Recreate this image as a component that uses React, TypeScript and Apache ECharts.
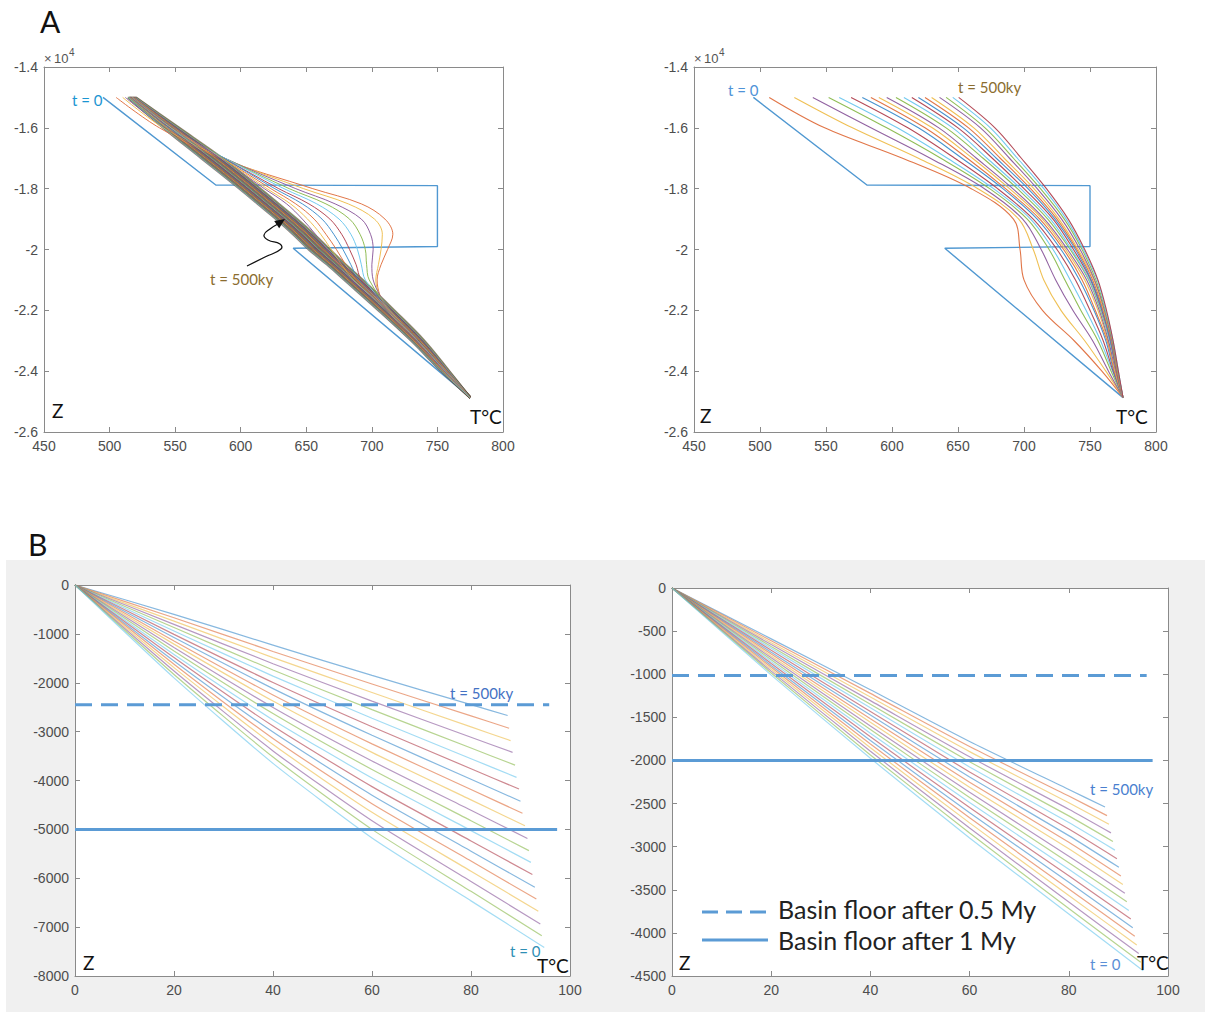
import React, { useEffect, useRef } from 'react';
import * as echarts from 'echarts';

// ---------- colours (MATLAB default order, as they appear) ----------
const COLORS = ['#3d8dcc', '#df6f3e', '#eebd4b', '#8b5a9c', '#8ab94d', '#6ac6ee', '#b0404e'];

// ---------- Panel A : initial condition (t = 0) ----------
const initT = [495, 581, 750, 750, 640, 775];
const initZ = [-15000, -17880, -17900, -19900, -19960, -24870];

// ---------- Panel A left : depths at which the temperatures were read ----------
const aLeftDepths = [-15000, -16000, -17000, -18000, -18500, -19000, -19500, -20000, -20500, -21000, -22000, -23000, -24000, -24870];
const aLeftCurves = [
  [505, 538, 585, 655, 692, 710, 716, 712, 707, 704, 712, 734, 755, 775],
  [510, 541, 587, 648, 682, 702, 708, 707, 705, 703, 713, 735, 756, 775],
  [512, 543, 588, 642, 672, 692, 699, 701, 700, 701, 714, 735, 756, 775],
  [514, 544, 588, 637, 665, 683, 691, 695, 696, 698, 714, 735, 756, 775],
  [515, 545, 588, 633, 658, 675, 684, 689, 692, 695, 713, 735, 756, 775],
  [516, 546, 587, 629, 652, 668, 677, 683, 688, 692, 713, 735, 756, 775],
  [516, 546, 587, 626, 647, 662, 671, 678, 684, 690, 713, 735, 756, 775],
  [517, 547, 586, 623, 642, 656, 665, 673, 680, 688, 712, 735, 756, 775],
  [517, 547, 586, 620, 638, 651, 661, 669, 677, 686, 712, 735, 756, 775],
  [518, 548, 585, 618, 635, 647, 657, 666, 675, 685, 712, 735, 756, 775],
  [520, 553, 586, 615, 629, 643, 656, 668, 680, 693, 717, 740, 759, 775],
  [519.6, 552.2, 584.9, 613.9, 627.9, 641.9, 654.9, 666.9, 679.1, 692.1, 716.2, 739.3, 758.6, 775],
  [519.2, 551.4, 583.9, 612.9, 626.9, 640.9, 653.9, 665.9, 678.1, 691.1, 715.4, 738.7, 758.2, 775],
  [518.8, 550.6, 582.8, 611.8, 625.8, 639.8, 652.8, 664.8, 677.2, 690.2, 714.6, 738, 757.8, 775],
  [518.4, 549.8, 581.7, 610.7, 624.7, 638.7, 651.7, 663.7, 676.3, 689.3, 713.8, 737.3, 757.4, 775],
  [518, 549, 580.7, 609.7, 623.7, 637.7, 650.7, 662.7, 675.3, 688.3, 713, 736.7, 757, 775],
  [517.6, 548.2, 579.6, 608.6, 622.6, 636.6, 649.6, 661.6, 674.4, 687.4, 712.2, 736, 756.6, 775],
  [517.2, 547.4, 578.5, 607.5, 621.5, 635.5, 648.5, 660.5, 673.5, 686.5, 711.4, 735.3, 756.2, 775],
  [516.8, 546.6, 577.5, 606.5, 620.5, 634.5, 647.5, 659.5, 672.5, 685.5, 710.6, 734.7, 755.8, 775],
  [516.4, 545.8, 576.4, 605.4, 619.4, 633.4, 646.4, 658.4, 671.6, 684.6, 709.8, 734, 755.4, 775],
  [516, 545, 575.3, 604.3, 618.3, 632.3, 645.3, 657.3, 670.7, 683.7, 709, 733.3, 755, 775],
  [515.6, 544.2, 574.3, 603.3, 617.3, 631.3, 644.3, 656.3, 669.7, 682.7, 708.2, 732.7, 754.6, 775],
  [515.2, 543.4, 573.2, 602.2, 616.2, 630.2, 643.2, 655.2, 668.8, 681.8, 707.4, 732, 754.2, 775],
  [514.8, 542.6, 572.1, 601.1, 615.1, 629.1, 642.1, 654.1, 667.9, 680.9, 706.6, 731.3, 753.8, 775],
  [514.4, 541.8, 571.1, 600.1, 614.1, 628.1, 641.1, 653.1, 666.9, 679.9, 705.8, 730.7, 753.4, 775],
  [514, 541, 570, 599, 613, 627, 640, 652, 666, 679, 705, 730, 753, 775],
];

// ---------- Panel A right ----------
const aRightDepths = [-15000, -16000, -17000, -18000, -19000, -20000, -21000, -22000, -23000, -24000, -24870];
const aRightCurves = [
  [507, 549, 608, 660, 692, 697, 700, 714, 738, 759, 775],
  [526, 570, 620, 665, 696, 707, 715, 728, 746, 762, 775],
  [540, 584, 629, 670, 699, 713, 724, 737, 752, 764, 775],
  [552, 596, 637, 674, 702.5, 719, 731, 743, 756, 766, 775],
  [560, 604, 642, 677, 705, 722, 735, 747, 758, 767, 775],
  [569, 612, 647.5, 680, 707, 725, 739, 750, 760, 767.5, 775],
  [577.5, 620, 653, 684, 710, 728, 742, 753, 762, 768, 775],
  [584, 625, 657, 686, 712, 730, 744, 754, 763, 768.5, 775],
  [590, 630.5, 661, 689, 714, 731.5, 746, 756, 763.5, 769, 775],
  [596, 635.5, 664, 691.5, 715.5, 733, 747.5, 757, 764, 769.5, 775],
  [603, 641, 669, 695, 718, 735, 749, 758, 765, 770, 775],
  [609, 646, 672, 697.5, 720, 736, 749.5, 758.5, 765, 770, 775],
  [615, 650, 676, 700, 722, 737.5, 750.5, 759, 765.5, 770, 775],
  [620, 654, 679, 703, 723.5, 739, 751, 759.5, 765.5, 770.5, 775],
  [625, 658, 682, 705, 725, 740, 752, 760, 766, 770.5, 775],
  [630, 662, 685, 707.5, 726.5, 741, 753, 760.5, 766.5, 771, 775],
  [636, 667, 689, 710, 728.5, 742.5, 753.5, 761, 766.5, 771, 775],
  [641, 670.5, 692, 712.5, 730.5, 744, 754.5, 761.5, 767, 771, 775],
  [646, 674.5, 695, 715, 732, 745, 755.5, 762, 767.5, 771.5, 775],
  [650.5, 678, 698, 717, 733.5, 746, 756, 762.5, 767.5, 771.5, 775],
];

// ---------- Panel B left ----------
const bGridT = [20, 40, 60, 80];
const bLeftEndT = [87.4, 87.7, 88.0, 88.4, 88.9, 89.2, 89.7, 90.0, 90.4, 90.9, 91.4, 91.7, 92.1, 92.4, 92.9, 93.2, 93.6, 94.0, 94.3, 94.8];
const bLeftEndZ = [-2670, -2930, -3185, -3425, -3685, -3935, -4175, -4425, -4670, -4925, -5185, -5435, -5675, -5925, -6185, -6425, -6675, -6935, -7175, -7415];
const bLeftZ20 = [-600, -670, -740, -805, -870, -940, -1010, -1075, -1145, -1210, -1280, -1350, -1420, -1485, -1555, -1620, -1690, -1760, -1830, -1900];
const bLeftZ40 = [-1230, -1360, -1485, -1610, -1740, -1865, -1995, -2120, -2250, -2375, -2505, -2630, -2760, -2885, -3010, -3140, -3265, -3395, -3520, -3650];
const bLeftZ60 = [-1850, -2025, -2200, -2375, -2550, -2725, -2900, -3075, -3250, -3425, -3600, -3775, -3950, -4125, -4300, -4475, -4650, -4825, -5000, -5175];
const bLeftZ80 = [-2448, -2679, -2904, -3115, -3336, -3554, -3759, -3975, -4184, -4396, -4610, -4823, -5025, -5236, -5446, -5649, -5856, -6067, -6268, -6463];
const bLeftFloorHalf = -2450;
const bLeftFloorOne = -5000;
const bLeftFloorHalfEnd = 95.8;
const bLeftFloorOneEnd = 97.4;

// ---------- Panel B right ----------
const bRightEndT = [87.3, 87.7, 88.1, 88.5, 88.9, 89.3, 89.7, 90.1, 90.5, 90.9, 91.3, 91.7, 92.1, 92.5, 92.9, 93.3, 93.7, 94.1, 94.5, 95.0];
const bRightEndZ = [-2540, -2640, -2740, -2840, -2940, -3040, -3140, -3240, -3340, -3440, -3540, -3640, -3740, -3840, -3940, -4040, -4140, -4240, -4340, -4440];
const bRightZ20 = [-590, -612, -634, -656, -678, -700, -722, -744, -766, -788, -810, -832, -854, -876, -898, -920, -942, -964, -986, -1010];
const bRightZ40 = [-1180, -1222, -1264, -1306, -1348, -1390, -1432, -1474, -1516, -1558, -1600, -1642, -1684, -1726, -1768, -1810, -1852, -1894, -1936, -1975];
const bRightZ60 = [-1780, -1839, -1898, -1957, -2016, -2075, -2134, -2193, -2252, -2311, -2370, -2429, -2488, -2547, -2606, -2665, -2724, -2783, -2842, -2900];
const bRightZ80 = [-2337, -2413, -2490, -2566, -2643, -2720, -2796, -2872, -2949, -3025, -3110, -3186, -3262, -3338, -3414, -3490, -3566, -3642, -3718, -3780];
const bRightFloorHalf = -1015;
const bRightFloorOne = -2000;
const bRightFloorHalfEnd = 95.7;
const bRightFloorOneEnd = 96.9;

// ---------- tick setup ----------
const aTempTicks = { min: 450, max: 800, interval: 50 };
const aDepthTicks = { min: -26000, max: -14000, interval: 2000 };
const bTempTicks = { min: 0, max: 100, interval: 20 };
const bLeftDepthTicks = { min: -8000, max: 0, interval: 1000 };
const bRightDepthTicks = { min: -4500, max: 0, interval: 500 };

const LEGEND_LABELS = ['Basin floor after 0.5 My', 'Basin floor after 1 My'];

const AXIS_COLOR = '#8a8a8a';
const LABEL_COLOR = '#4d4d4d';
const TICK_FONT = 'Liberation Sans, Arial, sans-serif';
const NOTE_FONT = 'Lato, "Liberation Sans", sans-serif';
const FLOOR_COLOR = '#5b9bd5';

function axesFor(g: number, xt: any, yt: any, yFmt: (v: number) => string) {
  const line = { show: true, onZero: false, lineStyle: { color: AXIS_COLOR, width: 1 } };
  const tick = { show: true, inside: true, length: 5, lineStyle: { color: AXIS_COLOR } };
  const lab = { color: LABEL_COLOR, fontSize: 14, fontFamily: TICK_FONT };
  const xs = [
    { gridIndex: g, type: 'value', position: 'bottom', ...xt, axisLine: line, axisTick: tick, axisLabel: { ...lab, margin: 7, formatter: (v: number) => String(v) }, splitLine: { show: false } },
    { gridIndex: g, type: 'value', position: 'top', ...xt, axisLine: line, axisTick: tick, axisLabel: { show: false }, splitLine: { show: false } },
  ];
  const ys = [
    { gridIndex: g, type: 'value', position: 'left', ...yt, axisLine: line, axisTick: tick, axisLabel: { ...lab, margin: 6, formatter: yFmt }, splitLine: { show: false } },
    { gridIndex: g, type: 'value', position: 'right', ...yt, axisLine: line, axisTick: tick, axisLabel: { show: false }, splitLine: { show: false } },
  ];
  return { xs, ys };
}

function lineSeries(g: number, data: number[][], color: string, width: number, opacity: number, z: number, smooth: number | boolean, dash?: any) {
  return {
    type: 'line',
    xAxisIndex: g * 2,
    yAxisIndex: g * 2,
    data,
    symbol: 'none',
    showSymbol: false,
    smooth,
    silent: true,
    z,
    lineStyle: { color, width, opacity, type: dash || 'solid' },
  };
}

function text(x: number, y: number, t: string, size: number, fill: string, align = 'left', family = NOTE_FONT) {
  return {
    type: 'text',
    x,
    y,
    z: 50,
    style: { text: t, fill, font: `${size}px ${family}`, textAlign: align, textVerticalAlign: 'middle', verticalAlign: 'middle' },
  };
}

function buildOption() {
  const expFmt = (v: number) => String(v / 10000);
  const plain = (v: number) => String(v);
  const a0 = axesFor(0, aTempTicks, aDepthTicks, expFmt);
  const a1 = axesFor(1, aTempTicks, aDepthTicks, expFmt);
  const b0 = axesFor(2, bTempTicks, bLeftDepthTicks, plain);
  const b1 = axesFor(3, bTempTicks, bRightDepthTicks, plain);

  const series: any[] = [];

  // Panel A left
  series.push(lineSeries(0, initT.map((t, i) => [t, initZ[i]]), COLORS[0], 1.4, 0.9, 2, false));
  aLeftCurves.forEach((xs, k) => {
    if (k >= 10) series.push(lineSeries(0, xs.map((x, i) => [x, aLeftDepths[i]]), '#6b5547', 2.4, 0.7, 3, 0.35));
  });
  aLeftCurves.forEach((xs, k) => {
    const idx = k + 1;
    series.push(lineSeries(0, xs.map((x, i) => [x, aLeftDepths[i]]), COLORS[idx % 7], 1, k >= 10 ? 0.6 : 0.95, 4, 0.35));
  });

  // Panel A right
  series.push(lineSeries(1, initT.map((t, i) => [t, initZ[i]]), COLORS[0], 1.4, 0.9, 2, false));
  aRightCurves.forEach((xs, k) => {
    const idx = k + 1;
    series.push(lineSeries(1, xs.map((x, i) => [x, aRightDepths[i]]), COLORS[idx % 7], 1.1, 0.95, 4, 0.35));
  });

  // Panel B left
  bLeftEndT.forEach((et, k) => {
    const data = [[0, 0], [bGridT[0], bLeftZ20[k]], [bGridT[1], bLeftZ40[k]], [bGridT[2], bLeftZ60[k]], [bGridT[3], bLeftZ80[k]], [et, bLeftEndZ[k]]];
    series.push(lineSeries(2, data, COLORS[k % 7], 1.2, 0.62, 3, 0.2));
  });
  series.push(lineSeries(2, [[0, bLeftFloorHalf], [bLeftFloorHalfEnd, bLeftFloorHalf]], FLOOR_COLOR, 3, 1, 6, false, [17, 9]));
  series.push(lineSeries(2, [[0, bLeftFloorOne], [bLeftFloorOneEnd, bLeftFloorOne]], FLOOR_COLOR, 3, 1, 6, false));

  // Panel B right
  bRightEndT.forEach((et, k) => {
    const data = [[0, 0], [bGridT[0], bRightZ20[k]], [bGridT[1], bRightZ40[k]], [bGridT[2], bRightZ60[k]], [bGridT[3], bRightZ80[k]], [et, bRightEndZ[k]]];
    series.push(lineSeries(3, data, COLORS[k % 7], 1.2, 0.62, 3, 0.2));
  });
  series.push(lineSeries(3, [[0, bRightFloorHalf], [bRightFloorHalfEnd, bRightFloorHalf]], FLOOR_COLOR, 3, 1, 6, false, [17, 9]));
  series.push(lineSeries(3, [[0, bRightFloorOne], [bRightFloorOneEnd, bRightFloorOne]], FLOOR_COLOR, 3, 1, 6, false));

  const graphic: any[] = [
    { type: 'rect', z: -20, shape: { x: 6, y: 560, width: 1199, height: 452 }, style: { fill: '#f0f0f0' } },
    { type: 'rect', z: -19, shape: { x: 75, y: 585, width: 495, height: 391 }, style: { fill: '#ffffff' } },
    { type: 'rect', z: -19, shape: { x: 672, y: 588, width: 496, height: 388 }, style: { fill: '#ffffff' } },
    // panel letters
    text(40, 21, 'A', 30, '#111'),
    text(28, 544, 'B', 30, '#111'),
    // x10^4 exponents
    text(44, 58, '×', 13, '#555', 'left', TICK_FONT),
    text(54, 58, '10', 13, '#555', 'left', TICK_FONT),
    text(69, 52, '4', 10, '#555', 'left', TICK_FONT),
    text(694, 58, '×', 13, '#555', 'left', TICK_FONT),
    text(704, 58, '10', 13, '#555', 'left', TICK_FONT),
    text(719, 52, '4', 10, '#555', 'left', TICK_FONT),
    // panel A left notes
    text(72, 100, 't = 0', 15, '#1b95d2'),
    text(210, 279, 't = 500ky', 15, '#8b6d2f'),
    text(52, 410, 'Z', 19, '#111'),
    text(470, 416, 'T°C', 19, '#111'),
    // arrow
    {
      type: 'polyline', z: 50,
      shape: { points: [[247, 266], [265, 257], [281, 249], [280, 244], [268, 240], [264, 235], [270, 229], [278, 224]], smooth: 0.5 },
      style: { stroke: '#111', lineWidth: 1.3, fill: null },
    },
    { type: 'polygon', z: 50, shape: { points: [[285, 219], [279.2, 228.3], [274.2, 220.9]] }, style: { fill: '#111' } },
    // panel A right notes
    text(728, 90, 't = 0', 15, '#4f93d8'),
    text(958, 87, 't = 500ky', 15, '#8b6d2f'),
    text(700, 415, 'Z', 19, '#111'),
    text(1116, 416, 'T°C', 19, '#111'),
    // panel B left notes
    text(450, 693, 't = 500ky', 15, '#4472c4'),
    text(510, 951, 't = 0', 15, '#2f8fb5'),
    text(83, 962, 'Z', 19, '#111'),
    text(537, 965, 'T°C', 19, '#111'),
    // panel B right notes
    text(1090, 789, 't = 500ky', 15, '#4a7fcf'),
    text(1090, 964, 't = 0', 15, '#5b8fd6'),
    text(679, 962, 'Z', 19, '#111'),
    text(1137, 962, 'T°C', 19, '#111'),
    // legend
    { type: 'line', z: 50, shape: { x1: 702, y1: 912, x2: 768, y2: 912 }, style: { stroke: FLOOR_COLOR, lineWidth: 3, lineDash: [16, 8] } },
    { type: 'line', z: 50, shape: { x1: 702, y1: 940, x2: 768, y2: 940 }, style: { stroke: FLOOR_COLOR, lineWidth: 3 } },
    text(778, 909, LEGEND_LABELS[0], 25, '#222'),
    text(778, 940, LEGEND_LABELS[1], 25, '#222'),
  ];

  return {
    animation: false,
    backgroundColor: '#ffffff',
    grid: [
      { left: 44, top: 67, width: 459, height: 365 },
      { left: 694, top: 67, width: 462, height: 365 },
      { left: 75, top: 585, width: 495, height: 391 },
      { left: 672, top: 588, width: 496, height: 388 },
    ],
    xAxis: [...a0.xs, ...a1.xs, ...b0.xs, ...b1.xs],
    yAxis: [...a0.ys, ...a1.ys, ...b0.ys, ...b1.ys],
    series,
    graphic,
  };
}

export default function App() {
  const ref = useRef<HTMLDivElement>(null);
  useEffect(() => {
    if (!ref.current) return;
    const chart = echarts.init(ref.current, null, { renderer: 'svg' });
    chart.setOption(buildOption() as any);
    return () => chart.dispose();
  }, []);
  return (
    <div
      ref={ref}
      style={{ position: 'absolute', left: 0, top: 0, width: 1205, height: 1012, background: '#fff' }}
    />
  );
}
